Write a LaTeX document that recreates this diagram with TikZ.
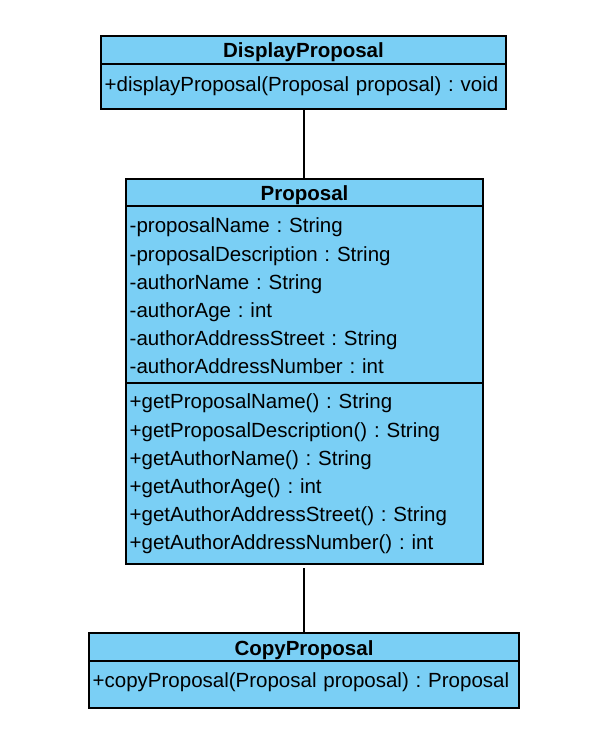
\documentclass[tikz,border=0pt]{standalone}
\usepackage{fontspec}
\setmainfont{Liberation Sans}
\usetikzlibrary{positioning}
\definecolor{classfill}{RGB}{122,207,245}
\newcommand*{\membersize}{\fontsize{20.5}{28.2}\selectfont\frenchspacing}

\begin{document}
\begin{tikzpicture}[x=1pt,y=1pt,node distance=0pt,
    classhead/.style={draw,fill=classfill,line width=1.2pt,outer sep=0pt,inner ysep=0pt,
      minimum height=28pt,text height=16pt,text depth=0pt,font=\membersize\bfseries},
    classbody/.style={draw,fill=classfill,line width=1.2pt,outer sep=0pt},
    members/.style={anchor=north west,inner xsep=3.5pt,inner ysep=7pt,text width=420pt,
      align=left,font=\membersize}]
    \useasboundingbox (0,0) rectangle (606,-735);
    % DisplayProposal
    \node[classhead,minimum width=405pt] (dispHead) at (303.5,-50) {DisplayProposal};
    \node[classbody,minimum width=405pt,minimum height=45pt] (dispBody) [below = of dispHead] {};
    \node[members,inner ysep=8pt] at (dispBody.north west) {\strut+displayProposal(Proposal proposal) : void};
    % Proposal
    \node[classhead,minimum width=357pt,minimum height=27pt] (propHead) at (304.5,-192.5) {Proposal};
    \node[classbody,minimum width=357pt,minimum height=177pt] (propAttr) [below = of propHead] {};
    \node[classbody,minimum width=357pt,minimum height=181pt] (propMeth) [below = of propAttr] {};
    \node[members] at (propAttr.north west) {\strut-proposalName : String\\
      -proposalDescription : String\\
      -authorName : String\\
      -authorAge : int\\
      -authorAddressStreet : String\\
      -authorAddressNumber : int};
    \node[members,inner ysep=6pt] at (propMeth.north west) {\strut+getProposalName() : String\\
      +getProposalDescription() : String\\
      +getAuthorName() : String\\
      +getAuthorAge() : int\\
      +getAuthorAddressStreet() : String\\
      +getAuthorAddressNumber() : int};
    % CopyProposal
    \node[classhead,minimum width=430pt] (copyHead) at (304,-647) {CopyProposal};
    \node[classbody,minimum width=430pt,minimum height=47pt] (copyBody) [below = of copyHead] {};
    \node[members] at (copyBody.north west) {\strut+copyProposal(Proposal proposal) : Proposal};
    \path[line width=1.2pt]
    (dispBody.south -| copyHead.north) edge (propHead.north -| copyHead.north)
    (propMeth.south -| copyHead.north) edge [shorten <=4pt] (copyHead.north)
    ;
  \end{tikzpicture}
\end{document}
